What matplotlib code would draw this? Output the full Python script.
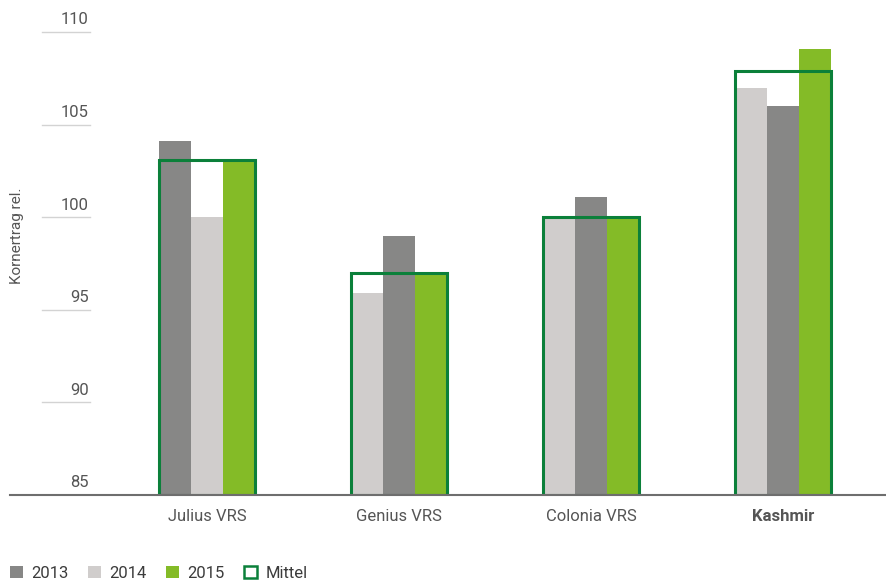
# Kornertrag relativ - grouped bars with Mittel outline

import numpy as np
import matplotlib.pyplot as plt
from matplotlib.patches import Patch
from matplotlib.transforms import blended_transform_factory

# Data
sorten = ["Julius VRS", "Genius VRS", "Colonia VRS", "Kashmir"]
jahre = ["2013", "2014", "2015"]
werte_2013 = [104.1, 99.0, 101.1, 106.0]
werte_2014 = [100.0, 95.9, 100.0, 107.0]
werte_2015 = [103.1, 97.0, 100.0, 109.1]
mittel = [103.1, 97.0, 100.0, 107.9]
# bar order inside each group (index into jahre)
slot_order = [[0, 1, 2], [1, 0, 2], [1, 0, 2], [1, 0, 2]]
y_ticks = [85, 90, 95, 100, 105, 110]

# Style
col_2013 = "#878786"
col_2014 = "#d0cdcc"
col_2015 = "#84bb27"
col_mittel = "#0b803a"
col_text = "#555555"
base = 85

plt.rcParams["font.family"] = ["Roboto", "DejaVu Sans"]

fig = plt.figure(figsize=(8.86, 5.84), dpi=100)
W, H = 886, 584
ax = fig.add_axes([10 / W, (H - 495) / H, 876 / W, 463 / H])

series = [werte_2013, werte_2014, werte_2015]
colors = [col_2013, col_2014, col_2015]
bw = 32 / 192
x = np.arange(len(sorten))

for i in range(len(sorten)):
    for slot, s in enumerate(slot_order[i]):
        xpos = x[i] + (slot - 1) * bw
        ax.bar(xpos, series[s][i] - base, bottom=base, width=bw,
               color=colors[s], linewidth=0, zorder=2)

ax.bar(x, np.array(mittel) - base, bottom=base, width=3 * bw, fill=False,
       edgecolor=col_mittel, linewidth=2.2, zorder=3)

ax.set_xlim(-197 / 192, 3 + 103 / 192)
ax.set_ylim(85, 110)
for sp in ["top", "right", "left"]:
    ax.spines[sp].set_visible(False)
ax.spines["bottom"].set_color("#6e6e6e")
ax.spines["bottom"].set_linewidth(1.5)
ax.spines["bottom"].set_zorder(4)
ax.set_yticks([])
ax.set_xticks(x)
ax.set_xticklabels(sorten, fontsize=12, color=col_text)
ax.get_xticklabels()[3].set_fontweight("bold")
ax.tick_params(axis="x", length=0, pad=10)

# short gridlines with labels sitting above them
tr = blended_transform_factory(fig.transFigure, ax.transData)
for t in y_ticks:
    if t != base:
        ax.plot([42 / W, 90 / W], [t, t], transform=tr, color="#d3d3d3",
                linewidth=1, clip_on=False)
    ax.text(89 / W, t + 0.25, str(t), transform=tr, ha="right", va="bottom",
            fontsize=12, color=col_text)

fig.text(17 / W, 1 - 236 / H, "Kornertrag rel.", rotation=90, ha="center",
         va="center", fontsize=11, color=col_text)

# Legend
handles = [Patch(facecolor=c, edgecolor="none") for c in colors]
handles.append(Patch(facecolor="white", edgecolor=col_mittel, linewidth=1.8))
fig.legend(handles, jahre + ["Mittel"], loc="lower left",
           bbox_to_anchor=(-5 / W, -12 / H), ncol=4, frameon=False,
           fontsize=12, handlelength=0.75, handleheight=0.75,
           handletextpad=0.5, columnspacing=1.2, labelcolor="#3c3c3c")

fig.savefig("out.png", dpi=100)
